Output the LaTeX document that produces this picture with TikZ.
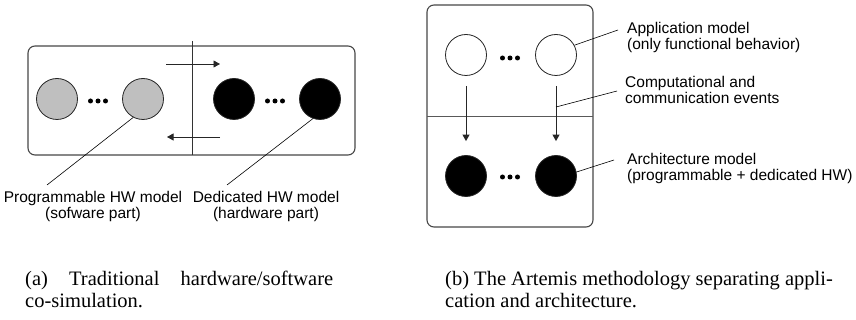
\documentclass[tikz,border=0pt]{standalone}
\usepackage{fontspec}
\setmainfont{Liberation Serif}
\newfontfamily\labfont{Liberation Sans}
\usetikzlibrary{arrows.meta}

\begin{document}
\begin{tikzpicture}[x=1pt,y=-1pt,
  frame/.style={draw=black!72, line width=1.1pt, rounded corners=7pt},
  sep/.style={draw=black!80, line width=0.9pt},
  proc/.style={circle, draw=black!85, line width=0.8pt, minimum size=41pt, inner sep=0pt},
  swproc/.style={proc, fill=black!25},
  hwproc/.style={proc, fill=black},
  appproc/.style={proc, fill=white},
  arr/.style={draw=black!85, line width=0.9pt, -{Triangle[length=6.5pt,width=7pt]}},
  leader/.style={draw=black, line width=0.6pt},
  lab/.style={font=\labfont\fontsize{15.5}{16.5}\selectfont, inner sep=0pt},
  captext/.style={font=\fontsize{20.5}{22}\selectfont, inner sep=0pt, anchor=base west}]

\useasboundingbox (0,0) rectangle (856,320);

% ---------- (a) traditional HW/SW co-simulation ----------
\draw[frame] (28,46) rectangle (355,155);
\coordinate (cutTop) at (192,41);
\coordinate (cutBot) at (192,155);
\draw[sep] (cutTop) -- (cutBot);

\node[swproc] (sw1) at (57,99) {};
\node[swproc] (sw2) at (143,99) {};
\node[hwproc] (hw1) at (234,99) {};
\node[hwproc] (hw2) at (320,99) {};

\coordinate (swdots) at (98,101);
\coordinate (hwdots) at (275,101);

\coordinate (toHWa) at (166,64);
\coordinate (toHWb) at (220,64);
\coordinate (toSWa) at (220,137);
\coordinate (toSWb) at (167,137);
\draw[arr] (toHWa) -- (toHWb);
\draw[arr] (toSWa) -- (toSWb);

\node[lab, align=center, anchor=north] (swlab) at (93,190.7)
  {Programmable HW model\\(sofware part)};
\node[lab, align=center, anchor=north] (hwlab) at (266,190.7)
  {Dedicated HW model\\(hardware part)};
\coordinate (swend) at (47,185);
\coordinate (hwend) at (227,185);
\draw[leader] (sw2.-118) -- (swend);
\draw[leader] (hw2.-110) -- (hwend);

\node[captext] (capa1) at (25,285) {\makebox[308pt][s]{(a) Traditional hardware/software}};
\node[captext] (capa2) at (25,307) {co-simulation.};

% ---------- (b) Artemis: application vs. architecture ----------
\draw[frame] (427,5) rectangle (593,227);
\coordinate (layL) at (427,116);
\coordinate (layR) at (593,116);
\draw[sep, draw=black!65] (layL) -- (layR);

\node[appproc] (ap1) at (466,55) {};
\node[appproc] (ap2) at (556,55) {};
\node[hwproc] (ar1) at (466,176) {};
\node[hwproc] (ar2) at (556,176) {};

\coordinate (apdots) at (510,58);
\coordinate (ardots) at (510,177);

\draw[arr, shorten <=10pt, shorten >=14pt] (ap1) -- (ar1);
\draw[arr, shorten <=10pt, shorten >=14pt] (ap2) -- (ar2);

\node[lab, align=left, anchor=north west] (applab) at (627,21.7)
  {Application model\\(only functional behavior)};
\node[lab, align=left, anchor=north west] (evlab) at (625,75.7)
  {Computational and\\communication events};
\node[lab, align=left, anchor=north west] (archlab) at (627,152.7)
  {Architecture model\\(programmable + dedicated HW)};

\coordinate (apend) at (618,30);
\coordinate (evpt) at (556,107);
\coordinate (evend) at (617,91);
\coordinate (arend) at (614,160);
\draw[leader] (ap2.28) -- (apend);
\draw[leader] (evpt) -- (evend);
\draw[leader] (ar2.11) -- (arend);

\node[captext] (capb1) at (445,285) {(b) The Artemis methodology separating appli-};
\node[captext] (capb2) at (445,307) {cation and architecture.};

% ellipsis dots between the processes
\foreach \p in {swdots,hwdots,apdots,ardots}
  \foreach \dx in {-7.5,0,7.5}
    \fill ([xshift=\dx pt]\p) circle (2.5pt);

\end{tikzpicture}
\end{document}
